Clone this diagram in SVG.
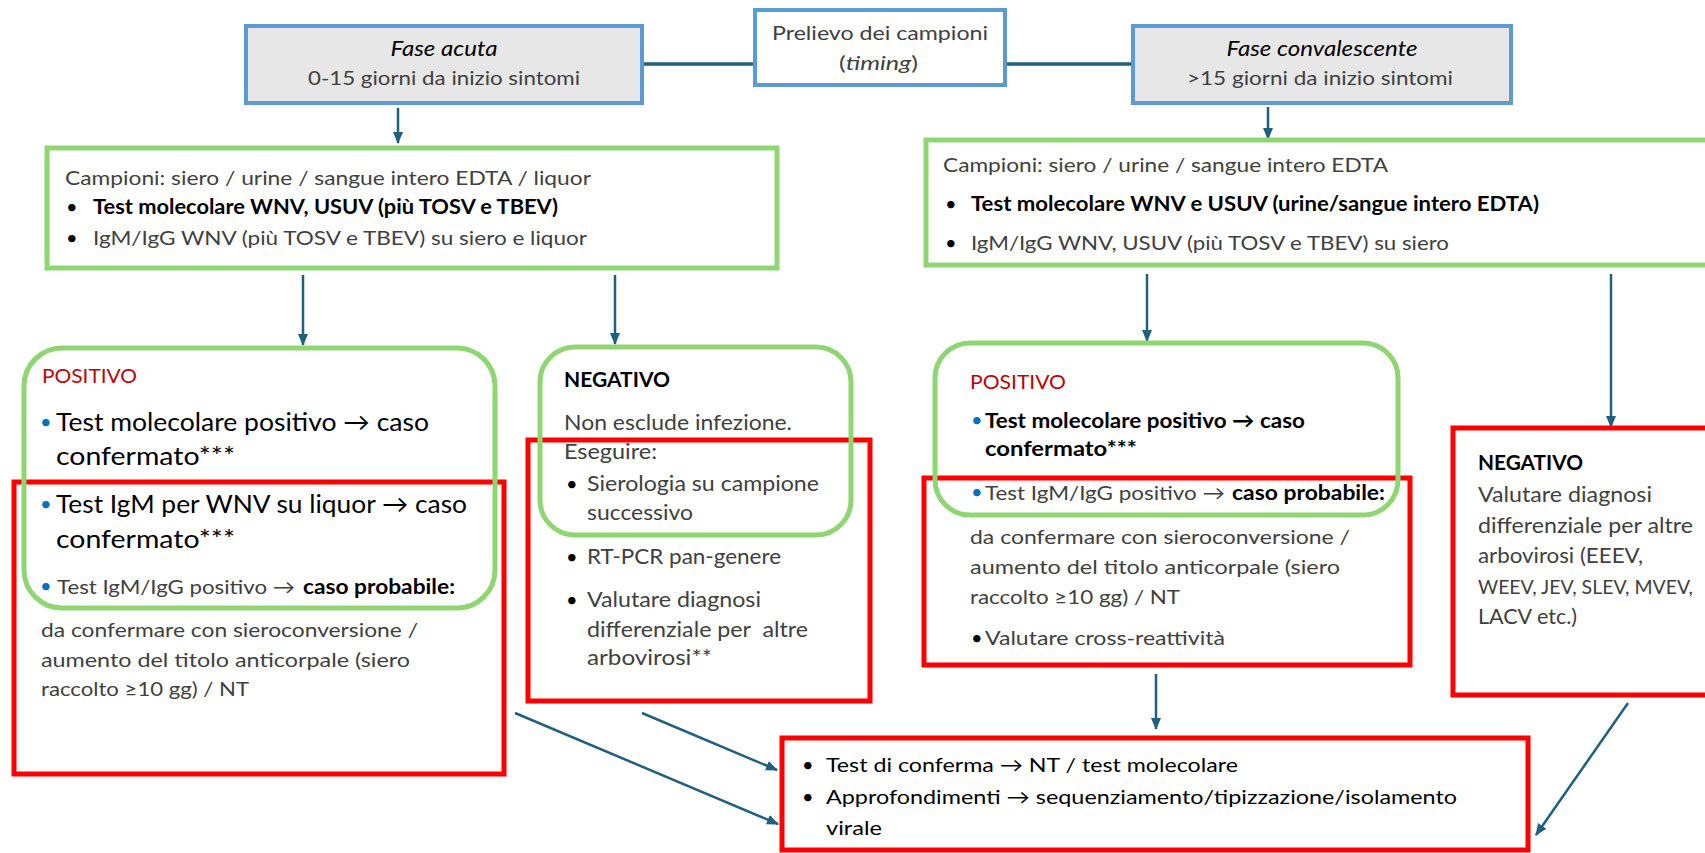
<svg xmlns="http://www.w3.org/2000/svg" width="1705" height="853" viewBox="0 0 1705 853">
<defs>
<style>
text{font-family:Lato,"Liberation Sans","DejaVu Sans",sans-serif;fill:#404040;font-size:20px}
.b{font-weight:700;fill:#000}
.k{fill:#000}
.it{font-style:italic}
.blu{fill:#0070c0}
.red{fill:#c00000}
.big{font-size:25px;fill:#000}
.m{font-size:21px}
.blue{fill:none;stroke:#5b9bd5;stroke-width:4}
.grn{fill:none;stroke:#8fd672;stroke-width:5}
.rd{fill:none;stroke:#ff0000;stroke-width:5}
.ln{stroke:#1f5f80;stroke-width:2.5;fill:none}
</style>
<marker id="ah" viewBox="0 0 12 10" refX="11" refY="5" markerWidth="12" markerHeight="10" markerUnits="userSpaceOnUse" orient="auto">
<path d="M0,0 L12,5 L0,10 Z" fill="#1f5f80"/>
</marker>
</defs>
<rect width="1705" height="853" fill="#fff"/>

<g id="connectors">
<line x1="642" y1="64" x2="755" y2="64" stroke="#1f5f80" stroke-width="3.5"/>
<line x1="1005" y1="64" x2="1133" y2="64" stroke="#1f5f80" stroke-width="3.5"/>
<line class="ln" x1="398" y1="108" x2="398" y2="143" marker-end="url(#ah)"/>
<line class="ln" x1="1268" y1="107" x2="1268" y2="139" marker-end="url(#ah)"/>
<line class="ln" x1="303" y1="275" x2="303" y2="345" marker-end="url(#ah)"/>
<line class="ln" x1="615" y1="275" x2="615" y2="344" marker-end="url(#ah)"/>
<line class="ln" x1="1147" y1="274" x2="1147" y2="341" marker-end="url(#ah)"/>
<line class="ln" x1="1611" y1="274" x2="1611" y2="427" marker-end="url(#ah)"/>
<line class="ln" x1="1156" y1="674" x2="1156" y2="729" marker-end="url(#ah)"/>
<line class="ln" x1="515" y1="713" x2="778" y2="824" marker-end="url(#ah)"/>
<line class="ln" x1="642" y1="713" x2="777" y2="770" marker-end="url(#ah)"/>
<line class="ln" x1="1628" y1="703" x2="1536" y2="835" marker-end="url(#ah)"/>
</g>

<g id="fase-acuta">
<rect x="246" y="26" width="396" height="77" class="blue" style="fill:#e7e7e7"/>
<text x="444" y="56" text-anchor="middle" class="it k m" textLength="107" lengthAdjust="spacingAndGlyphs">Fase acuta</text>
<text x="444" y="85" text-anchor="middle" textLength="272" lengthAdjust="spacingAndGlyphs">0-15 giorni da inizio sintomi</text>
</g>

<g id="prelievo">
<rect x="755" y="10" width="250" height="75" class="blue" style="fill:#fff"/>
<text x="772" y="40" textLength="216" lengthAdjust="spacingAndGlyphs">Prelievo dei campioni</text>
<text x="839" y="70" textLength="79" lengthAdjust="spacingAndGlyphs">(<tspan class="it">timing</tspan>)</text>
</g>

<g id="fase-convalescente">
<rect x="1133" y="26" width="378" height="77" class="blue" style="fill:#e7e7e7"/>
<text x="1322" y="56" text-anchor="middle" class="it k m" textLength="191" lengthAdjust="spacingAndGlyphs">Fase convalescente</text>
<text x="1320" y="85" text-anchor="middle" textLength="266" lengthAdjust="spacingAndGlyphs">&gt;15 giorni da inizio sintomi</text>
</g>

<g id="campioni-acuta">
<rect x="47" y="148" width="730" height="120" class="grn"/>
<text x="65" y="185" textLength="526" lengthAdjust="spacingAndGlyphs">Campioni: siero / urine / sangue intero EDTA / liquor</text>
<text x="66" y="214" class="k">•</text>
<text x="93" y="214" class="b" textLength="465" lengthAdjust="spacingAndGlyphs">Test molecolare WNV, USUV (più TOSV e TBEV)</text>
<text x="66" y="245" class="k">•</text>
<text x="93" y="245" textLength="494" lengthAdjust="spacingAndGlyphs">IgM/IgG WNV (più TOSV e TBEV) su siero e liquor</text>
</g>

<g id="campioni-convalescente">
<rect x="926" y="140" width="800" height="125" class="grn"/>
<text x="943" y="172" textLength="445" lengthAdjust="spacingAndGlyphs">Campioni: siero / urine / sangue intero EDTA</text>
<text x="945" y="211" class="k">•</text>
<text x="971" y="211" class="b" textLength="568" lengthAdjust="spacingAndGlyphs">Test molecolare WNV e USUV (urine/sangue intero EDTA)</text>
<text x="945" y="250" class="k">•</text>
<text x="971" y="250" textLength="478" lengthAdjust="spacingAndGlyphs">IgM/IgG WNV, USUV (più TOSV e TBEV) su siero</text>
</g>

<g id="positivo-acuta">
<rect x="14" y="482" width="490" height="292" class="rd"/>
<rect x="24" y="348" width="471" height="260" rx="38" class="grn"/>
<text x="42" y="383" class="red" textLength="95" lengthAdjust="spacingAndGlyphs">POSITIVO</text>
<text x="40" y="429" class="blu">•</text>
<text x="56" y="431" class="big" textLength="373" lengthAdjust="spacingAndGlyphs">Test molecolare positivo → caso</text>
<text x="56" y="465" class="big" textLength="179" lengthAdjust="spacingAndGlyphs">confermato***</text>
<text x="40" y="511" class="blu">•</text>
<text x="56" y="513" class="big" textLength="411" lengthAdjust="spacingAndGlyphs">Test IgM per WNV su liquor → caso</text>
<text x="56" y="548" class="big" textLength="179" lengthAdjust="spacingAndGlyphs">confermato***</text>
<text x="40" y="593" class="blu">•</text>
<text x="57" y="594" textLength="238" lengthAdjust="spacingAndGlyphs">Test IgM/IgG positivo →</text>
<text x="303" y="594" class="b" textLength="152" lengthAdjust="spacingAndGlyphs">caso probabile:</text>
<text x="41" y="637" textLength="377" lengthAdjust="spacingAndGlyphs">da confermare con sieroconversione /</text>
<text x="41" y="667" textLength="369" lengthAdjust="spacingAndGlyphs">aumento del titolo anticorpale (siero</text>
<text x="41" y="696" textLength="208" lengthAdjust="spacingAndGlyphs">raccolto ≥10 gg) / NT</text>
</g>

<g id="negativo-acuta">
<rect x="528" y="440" width="342" height="261" class="rd"/>
<rect x="540" y="347" width="311" height="188" rx="35" class="grn"/>
<text x="564" y="387" class="b" textLength="106" lengthAdjust="spacingAndGlyphs">NEGATIVO</text>
<text x="564" y="430" class="m" textLength="228" lengthAdjust="spacingAndGlyphs">Non esclude infezione.</text>
<text x="564" y="459" class="m" textLength="93" lengthAdjust="spacingAndGlyphs">Eseguire:</text>
<text x="566" y="491" class="k">•</text>
<text x="587" y="491" class="m" textLength="232" lengthAdjust="spacingAndGlyphs">Sierologia su campione</text>
<text x="587" y="520" class="m" textLength="106" lengthAdjust="spacingAndGlyphs">successivo</text>
<text x="566" y="564" class="k">•</text>
<text x="587" y="564" class="m" textLength="194" lengthAdjust="spacingAndGlyphs">RT-PCR pan-genere</text>
<text x="566" y="607" class="k">•</text>
<text x="587" y="607" class="m" textLength="174" lengthAdjust="spacingAndGlyphs">Valutare diagnosi</text>
<text x="587" y="637" class="m" xml:space="preserve" textLength="221" lengthAdjust="spacingAndGlyphs">differenziale per  altre</text>
<text x="587" y="665" class="m" textLength="125" lengthAdjust="spacingAndGlyphs">arbovirosi**</text>
</g>

<g id="positivo-convalescente">
<rect x="924" y="478" width="486" height="187" class="rd"/>
<rect x="935" y="343" width="463" height="172" rx="35" class="grn"/>
<text x="970" y="389" class="red" textLength="96" lengthAdjust="spacingAndGlyphs">POSITIVO</text>
<text x="971" y="427" class="blu">•</text>
<text x="985" y="428" class="b m" textLength="320" lengthAdjust="spacingAndGlyphs">Test molecolare positivo → caso</text>
<text x="985" y="456" class="b m" textLength="152" lengthAdjust="spacingAndGlyphs">confermato***</text>
<text x="971" y="499" class="blu">•</text>
<text x="985" y="500" textLength="240" lengthAdjust="spacingAndGlyphs">Test IgM/IgG positivo →</text>
<text x="1232" y="500" class="b" textLength="153" lengthAdjust="spacingAndGlyphs">caso probabile:</text>
<text x="970" y="544" textLength="380" lengthAdjust="spacingAndGlyphs">da confermare con sieroconversione /</text>
<text x="970" y="574" textLength="370" lengthAdjust="spacingAndGlyphs">aumento del titolo anticorpale (siero</text>
<text x="970" y="604" textLength="210" lengthAdjust="spacingAndGlyphs">raccolto ≥10 gg) / NT</text>
<text x="971" y="645" class="k">•</text>
<text x="985" y="645" textLength="240" lengthAdjust="spacingAndGlyphs">Valutare cross-reattività</text>
</g>

<g id="negativo-convalescente">
<rect x="1453" y="428" width="300" height="267" class="rd"/>
<text x="1478" y="470" class="b" textLength="105" lengthAdjust="spacingAndGlyphs">NEGATIVO</text>
<text x="1478" y="502" class="m" textLength="174" lengthAdjust="spacingAndGlyphs">Valutare diagnosi</text>
<text x="1478" y="533" class="m" textLength="215" lengthAdjust="spacingAndGlyphs">differenziale per altre</text>
<text x="1478" y="563" class="m" textLength="165" lengthAdjust="spacingAndGlyphs">arbovirosi (EEEV,</text>
<text x="1478" y="594" style="font-size:18.5px" textLength="215" lengthAdjust="spacingAndGlyphs">WEEV, JEV, SLEV, MVEV,</text>
<text x="1478" y="624" class="m" textLength="99" lengthAdjust="spacingAndGlyphs">LACV etc.)</text>
</g>

<g id="conferma">
<rect x="782" y="738" width="746" height="112" class="rd"/>
<text x="802" y="772" class="k">•</text>
<text x="826" y="772" class="k" textLength="412" lengthAdjust="spacingAndGlyphs">Test di conferma → NT / test molecolare</text>
<text x="802" y="804" class="k">•</text>
<text x="826" y="804" class="k" textLength="631" lengthAdjust="spacingAndGlyphs">Approfondimenti → sequenziamento/tipizzazione/isolamento</text>
<text x="826" y="835" class="k" textLength="56" lengthAdjust="spacingAndGlyphs">virale</text>
</g>
</svg>
